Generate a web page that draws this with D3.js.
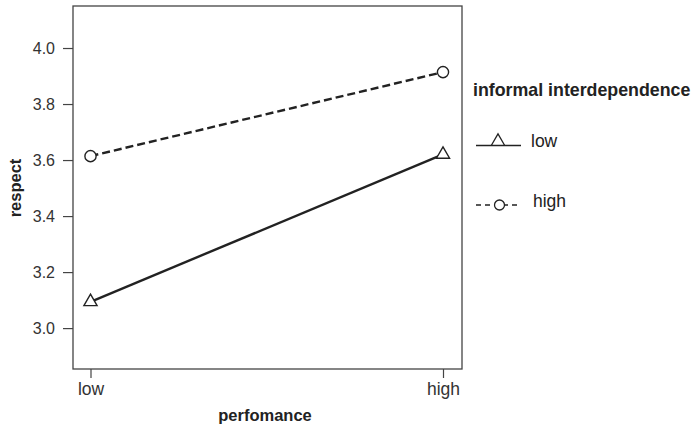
<!DOCTYPE html>
<html><head><meta charset="utf-8">
<script src="https://cdn.jsdelivr.net/npm/d3@7"></script>
<style>body{margin:0;background:#fff}svg{display:block}text{font-family:"Liberation Sans",Arial,sans-serif}</style>
</head><body>
<script>
const categories = ["low", "high"];
const seriesNames = ["low", "high"];
const lowValues = [3.094, 3.62];
const highValues = [3.614, 3.914];
const yTicks = [3.0, 3.2, 3.4, 3.6, 3.8, 4.0];

const W = 695, H = 430;
const box = {l: 73, r: 462, t: 6, b: 369};
const svg = d3.select("body").append("svg").attr("width", W).attr("height", H);

const x = d3.scalePoint().domain(categories).range([90.5, 443]);
const y = d3.scaleLinear().domain([2.854, 4.15]).range([box.b, box.t]);

// frame
svg.append("rect").attr("x", box.l).attr("y", box.t).attr("width", box.r - box.l).attr("height", box.b - box.t)
  .attr("fill", "none").attr("stroke", "#444").attr("stroke-width", 1.3);

// y axis
const yAxis = d3.axisLeft(y).tickValues(yTicks).tickFormat(d3.format(".1f")).tickSize(10).tickPadding(8);
const gy = svg.append("g").attr("transform", `translate(${box.l},0)`).call(yAxis);
gy.select(".domain").remove();
gy.selectAll("line").attr("stroke", "#444").attr("stroke-width", 1.2);
gy.selectAll("text").attr("font-size", 16).attr("fill", "#333").attr("font-family", "Liberation Sans, Arial, sans-serif");

// x axis
const xAxis = d3.axisBottom(x).tickSize(9).tickPadding(5);
const gx = svg.append("g").attr("transform", `translate(0,${box.b})`).call(xAxis);
gx.select(".domain").remove();
gx.selectAll("line").attr("stroke", "#444").attr("stroke-width", 1.2);
gx.selectAll("text").attr("font-size", 17.5).attr("fill", "#333").attr("font-family", "Liberation Sans, Arial, sans-serif");

// titles
svg.append("text").attr("x", 265).attr("y", 421).attr("text-anchor", "middle")
  .attr("font-size", 16.5).attr("font-weight", "bold").attr("fill", "#222").text("perfomance");
svg.append("text").attr("transform", "translate(21,188) rotate(-90)").attr("text-anchor", "middle")
  .attr("font-size", 16.5).attr("font-weight", "bold").attr("fill", "#222").text("respect");

const line = d3.line().x((d, i) => x(categories[i])).y(d => y(d));
const tri = d3.symbol().type(d3.symbolTriangle).size(75);

// lines
svg.append("path").attr("d", line(lowValues)).attr("fill", "none").attr("stroke", "#222").attr("stroke-width", 2.4);
svg.append("path").attr("d", line(highValues)).attr("fill", "none").attr("stroke", "#222").attr("stroke-width", 2.4)
  .attr("stroke-dasharray", "8,4");

// markers
svg.selectAll(".tri").data(lowValues).enter().append("path")
  .attr("d", tri).attr("transform", (d, i) => `translate(${x(categories[i])},${y(d)})`)
  .attr("fill", "#fff").attr("stroke", "#222").attr("stroke-width", 1.4);
svg.selectAll(".circ").data(highValues).enter().append("circle")
  .attr("cx", (d, i) => x(categories[i])).attr("cy", d => y(d)).attr("r", 5.6)
  .attr("fill", "#fff").attr("stroke", "#222").attr("stroke-width", 1.4);

// legend
svg.append("text").attr("x", 473).attr("y", 96).attr("font-size", 17.8).attr("font-weight", "bold")
  .attr("fill", "#222").text("informal interdependence");
const lg = [{name: seriesNames[0], y: 145.5, dash: null, marker: "tri"}, {name: seriesNames[1], y: 205, dash: "5,4", marker: "circ"}];
lg.forEach(d => {
  svg.append("line").attr("x1", 476).attr("x2", 521).attr("y1", d.y).attr("y2", d.y)
    .attr("stroke", "#222").attr("stroke-width", 1.3).attr("stroke-dasharray", d.dash);
  if (d.marker === "tri") {
    svg.append("path").attr("d", tri).attr("transform", `translate(498,${d.y - 4})`)
      .attr("fill", "#fff").attr("stroke", "#222").attr("stroke-width", 1.3);
  } else {
    svg.append("circle").attr("cx", 499.5).attr("cy", d.y).attr("r", 5)
      .attr("fill", "#fff").attr("stroke", "#222").attr("stroke-width", 1.3);
  }
  svg.append("text").attr("x", d.marker === "tri" ? 531 : 533).attr("y", d.y + 1.5).attr("font-size", 17.5).attr("fill", "#222").text(d.name);
});
</script>
</body></html>
